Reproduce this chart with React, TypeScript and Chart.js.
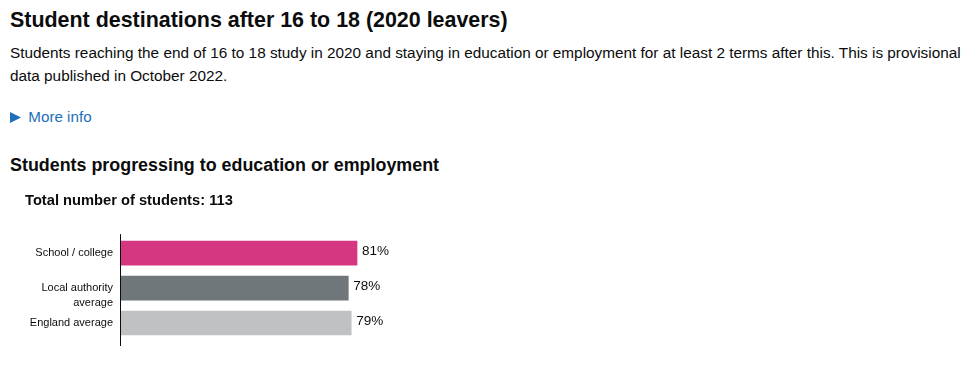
import React, { useEffect, useRef } from "react";
import { Chart, registerables } from "chart.js";

Chart.register(...registerables);

// ---- data ----
const categories: (string | string[])[] = ["School / college", ["Local authority", "average"], "England average"];
const values: number[] = [81, 78, 79];
const valueLabels: string[] = ["81%", "78%", "79%"];
const barColors: string[] = ["#d53880", "#6f777b", "#bfc1c3"];
const totalStudents = 113;

const pageTitle = "Student destinations after 16 to 18 (2020 leavers)";
const introLines: string[] = [
  "Students reaching the end of 16 to 18 study in 2020 and staying in education or employment for at least 2 terms after this. This is provisional",
  "data published in October 2022.",
];
const moreInfoText = "More info";
const sectionTitle = "Students progressing to education or employment";
const chartTitle = `Total number of students: ${totalStudents}`;

const FONT = '"Liberation Sans", Arial, sans-serif';
const INK = "#0b0c0c";
const LINK = "#1d70b8";

let measureCtx: CanvasRenderingContext2D | null = null;
function fitSize(text: string, weight: string, target: number): number {
  if (!measureCtx) measureCtx = document.createElement("canvas").getContext("2d");
  if (!measureCtx) return 16;
  measureCtx.font = `${weight} 100px ${FONT}`;
  const w = measureCtx.measureText(text).width;
  return (100 * target) / w;
}

function Text(props: { text: string; left: number; baseline: number; size: number; weight?: string; color?: string }) {
  const { text, left, baseline, size, weight = "normal", color = INK } = props;
  return (
    <div
      style={{
        position: "absolute",
        left,
        top: baseline - 0.8465 * size,
        fontSize: size,
        lineHeight: `${size}px`,
        fontWeight: weight as any,
        whiteSpace: "nowrap",
        color,
        fontFamily: FONT,
      }}
    >
      {text}
    </div>
  );
}

function BarChart() {
  const ref = useRef<HTMLCanvasElement | null>(null);
  useEffect(() => {
    if (!ref.current) return;
    const overlay = {
      id: "overlay",
      afterDatasetsDraw(chart: any) {
        const { ctx, chartArea } = chart;
        const xs = chart.scales.x;
        const ys = chart.scales.y;
        ctx.save();
        // axis line
        ctx.fillStyle = INK;
        ctx.fillRect(chartArea.left - 1, chartArea.top - 1.5, 1, chartArea.bottom - chartArea.top + 7);
        // category labels
        ctx.font = `11px ${FONT}`;
        ctx.textAlign = "right";
        ctx.textBaseline = "alphabetic";
        categories.forEach((c, i) => {
          const cy = ys.getPixelForValue(i);
          const lines = Array.isArray(c) ? c : [c];
          lines.forEach((ln, j) => {
            ctx.fillText(ln, chartArea.left - 8, cy + 3 + j * 15);
          });
        });
        // value labels
        ctx.font = `13.5px ${FONT}`;
        ctx.textAlign = "left";
        values.forEach((v, i) => {
          const cy = ys.getPixelForValue(i);
          ctx.fillText(valueLabels[i], xs.getPixelForValue(v) + 5, cy + 1.5);
        });
        ctx.restore();
      },
    };
    const chart = new Chart(ref.current, {
      type: "bar",
      data: {
        labels: categories as any,
        datasets: [
          {
            data: values,
            backgroundColor: barColors,
            borderWidth: 0,
            barThickness: 24,
          },
        ],
      },
      options: {
        indexAxis: "y",
        responsive: false,
        animation: false,
        devicePixelRatio: 1,
        layout: { padding: { left: 25, right: 17.6, top: 0, bottom: 19.5 } },
        plugins: {
          legend: { display: false },
          tooltip: { enabled: false },
          title: {
            display: true,
            text: chartTitle,
            align: "start",
            color: INK,
            font: { family: FONT, weight: "bold", size: 14.7, lineHeight: 1.2 },
            padding: { top: 7.2, bottom: 25.8 },
          },
        },
        scales: {
          x: { display: false, min: 0, max: 100 },
          y: {
            display: true,
            grid: { display: false, drawTicks: false },
            border: { display: false },
            ticks: { display: false },
            afterFit: (s: any) => {
              s.width = 96;
            },
          },
        },
      },
      plugins: [overlay],
    } as any);
    return () => chart.destroy();
  }, []);
  return (
    <canvas
      ref={ref}
      width={430}
      height={175}
      style={{ position: "absolute", left: 0, top: 185, width: 430, height: 175 }}
    />
  );
}

export default function App() {
  const titleSize = fitSize(pageTitle, "bold", 498);
  const introSize = fitSize(introLines[0], "normal", 952);
  const moreSize = fitSize(moreInfoText, "normal", 63.4);
  const sectionSize = fitSize(sectionTitle, "bold", 429.3);
  return (
    <div
      style={{
        position: "fixed",
        left: 0,
        top: 0,
        width: 970,
        height: 365,
        background: "#ffffff",
        overflow: "hidden",
      }}
    >
      <Text text={pageTitle} left={10} baseline={28.3} size={titleSize} weight="bold" />
      <Text text={introLines[0]} left={10} baseline={57.7} size={introSize} />
      <Text text={introLines[1]} left={10} baseline={81} size={introSize} />
      <svg style={{ position: "absolute", left: 10, top: 111.7 }} width={11} height={11}>
        <polygon points="0,0 11,5.5 0,11" fill={LINK} />
      </svg>
      <Text text={moreInfoText} left={28.3} baseline={122.3} size={moreSize} color={LINK} />
      <Text text={sectionTitle} left={10} baseline={171.7} size={sectionSize} weight="bold" />
      <BarChart />
    </div>
  );
}
